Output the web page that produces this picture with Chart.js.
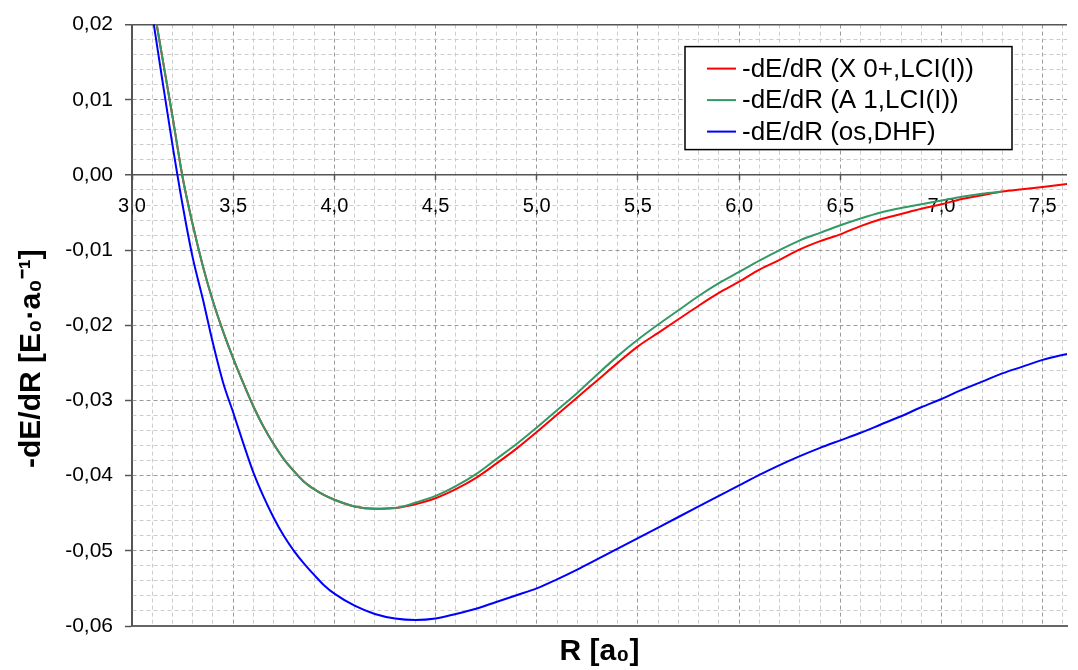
<!DOCTYPE html>
<html>
<head>
<meta charset="utf-8">
<script src="https://cdn.jsdelivr.net/npm/chart.js@4"></script>
<style>
  html, body { margin: 0; padding: 0; background: #fff; }
  #wrap { width: 1078px; height: 670px; position: relative; }
</style>
</head>
<body>
<div id="wrap"><canvas id="forceChart"></canvas></div>
<script>
// internuclear distance R [a0]
const rValues = [
  3.10, 3.15, 3.20, 3.25, 3.30, 3.35, 3.40, 3.45, 3.50, 3.55,
  3.60, 3.65, 3.70, 3.75, 3.80, 3.85, 3.90, 3.95, 4.00, 4.10,
  4.20, 4.30, 4.40, 4.50, 4.60, 4.70, 4.80, 4.90, 5.00, 5.10,
  5.20, 5.30, 5.40, 5.50, 5.60, 5.70, 5.80, 5.90, 6.00, 6.10,
  6.20, 6.30, 6.40, 6.50, 6.60, 6.70, 6.80, 6.90, 7.00, 7.10,
  7.20, 7.30, 7.40, 7.50, 7.62
];

// -dE/dR, X 0+ state, LCI(I)
const forceX = [
  0.0235, 0.0156, 0.0078, -0.0003, -0.0066, -0.0121, -0.0168, -0.0208, -0.0244, -0.0277,
  -0.0308, -0.0335, -0.0358, -0.0378, -0.0394, -0.0408, -0.0418, -0.0426, -0.0432, -0.0441,
  -0.0444, -0.0443, -0.0438, -0.0430, -0.0418, -0.0403, -0.0384, -0.0364, -0.0342, -0.0319,
  -0.0296, -0.0273, -0.0250, -0.0228, -0.0210, -0.0192, -0.0174, -0.0157, -0.0142, -0.0126,
  -0.0113, -0.0099, -0.0088, -0.0079, -0.0068, -0.0059, -0.0052, -0.0045, -0.0039, -0.0032,
  -0.0027, -0.0022, -0.0019, -0.0016, -0.0012
];

// -dE/dR, A 1 state, LCI(I)
const forceA = [
  0.0235, 0.0156, 0.0078, -0.0003, -0.0066, -0.0121, -0.0168, -0.0208, -0.0244, -0.0277,
  -0.0308, -0.0335, -0.0358, -0.0378, -0.0394, -0.0408, -0.0418, -0.0426, -0.0432, -0.0441,
  -0.0444, -0.0443, -0.0436, -0.0427, -0.0414, -0.0398, -0.0378, -0.0358, -0.0336, -0.0313,
  -0.0290, -0.0265, -0.0241, -0.0219, -0.0199, -0.0180, -0.0161, -0.0144, -0.0129, -0.0114,
  -0.0100, -0.0087, -0.0077, -0.0067, -0.0058, -0.0050, -0.0044, -0.0039, -0.0034, -0.0029,
  -0.0025, -0.0022, null, null, null
];

// -dE/dR, os, DHF
const forceDHF = [
  0.0214, 0.0126, 0.0040, -0.0040, -0.0110, -0.0165, -0.0224, -0.0276, -0.0316, -0.0357,
  -0.0396, -0.0428, -0.0456, -0.0480, -0.0500, -0.0517, -0.0532, -0.0546, -0.0557, -0.0573,
  -0.0584, -0.0590, -0.0592, -0.0590, -0.0584, -0.0577, -0.0568, -0.0559, -0.0550, -0.0538,
  -0.0525, -0.0511, -0.0497, -0.0483, -0.0469, -0.0455, -0.0441, -0.0427, -0.0413, -0.0399,
  -0.0386, -0.0374, -0.0363, -0.0353, -0.0343, -0.0332, -0.0321, -0.0309, -0.0298, -0.0286,
  -0.0275, -0.0264, -0.0255, -0.0246, -0.0238
];

const seriesLabels = [
  '-dE/dR (X 0+,LCI(I))',
  '-dE/dR (A 1,LCI(I))',
  '-dE/dR (os,DHF)'
];
const seriesColors = ['#ff0000', '#339966', '#0000ff'];

const xMin = 3.0, xMax = 7.62, yMin = -0.06, yMax = 0.02;

const FONT = '"Liberation Sans", Arial, sans-serif';

function isMult(v, step) {
  return Math.abs(v / step - Math.round(v / step)) < 1e-6;
}
function near(a, b) {
  return Math.abs(a - b) < 1e-9;
}
function toPoints(ys) {
  return rValues.map((r, i) => ({ x: r, y: ys[i] }));
}

// grid styling: solid frame lines, darker dashed majors, light dashed minors
function yGridColor(c) {
  if (!c.tick) return '#555';
  const v = c.tick.value;
  if (near(v, yMax) || near(v, 0) || near(v, yMin)) return '#555';
  return isMult(v, 0.01) ? '#9a9a9a' : '#cccccc';
}
function yGridDash(c) {
  if (!c.tick) return [];
  const v = c.tick.value;
  if (near(v, yMax) || near(v, 0) || near(v, yMin)) return [];
  return [4, 3];
}
function xGridColor(c) {
  if (!c.tick) return '#555';
  const v = c.tick.value;
  if (near(v, xMin)) return '#555';
  return isMult(v, 0.5) ? '#9a9a9a' : '#cccccc';
}
function xGridDash(c) {
  if (!c.tick) return [];
  return near(c.tick.value, xMin) ? [] : [4, 3];
}

// legend drawn as a framed box inside the plot, like the original
const boxLegend = {
  id: 'boxLegend',
  afterDraw(chart) {
    const { ctx, chartArea } = chart;
    const left = chartArea.right - 382;
    const top = chartArea.top + 22;
    const w = 327, h = 103;
    ctx.save();
    ctx.fillStyle = '#fff';
    ctx.fillRect(left, top, w, h);
    ctx.strokeStyle = '#000';
    ctx.lineWidth = 1.5;
    ctx.strokeRect(left, top, w, h);
    ctx.font = '26px ' + FONT;
    ctx.textBaseline = 'middle';
    ctx.fillStyle = '#000';
    chart.data.datasets.forEach((ds, i) => {
      const y = top + 22 + i * 31.5;
      ctx.strokeStyle = ds.borderColor;
      ctx.lineWidth = 2;
      ctx.beginPath();
      ctx.moveTo(left + 22, y);
      ctx.lineTo(left + 51, y);
      ctx.stroke();
      ctx.fillText(ds.label, left + 57, y + 1);
    });
    ctx.restore();
  }
};

const ctx = document.getElementById('forceChart').getContext('2d');

new Chart(ctx, {
  type: 'line',
  data: {
    datasets: [
      { label: seriesLabels[0], data: toPoints(forceX), borderColor: seriesColors[0], order: 1 },
      { label: seriesLabels[1], data: toPoints(forceA), borderColor: seriesColors[1], order: 0 },
      { label: seriesLabels[2], data: toPoints(forceDHF), borderColor: seriesColors[2], order: 2 }
    ]
  },
  options: {
    responsive: true,
    maintainAspectRatio: false,
    animation: false,
    parsing: false,
    layout: { padding: { top: 24, right: 0, bottom: 0, left: 0 } },
    elements: {
      line: { borderWidth: 2, cubicInterpolationMode: 'monotone', fill: false },
      point: { radius: 0, hoverRadius: 0 }
    },
    plugins: {
      legend: { display: false },
      tooltip: { enabled: false }
    },
    scales: {
      x: {
        type: 'linear',
        position: 'bottom',
        min: xMin,
        max: xMax,
        ticks: { display: false, stepSize: 0.1, includeBounds: false },
        grid: { color: xGridColor, drawTicks: false, tickLength: 0 },
        border: { display: true, color: '#666', width: 2, dash: xGridDash },
        title: {
          display: true,
          text: 'R [a₀]',
          color: '#000',
          font: { family: FONT, size: 30, weight: 'bold' },
          padding: { top: 0, bottom: 0 }
        },
        afterFit: (scale) => { scale.height = 44; }
      },
      xLabels: {
        type: 'linear',
        axis: 'x',
        position: { y: 0 },
        min: xMin,
        max: xMax,
        ticks: {
          stepSize: 0.1,
          includeBounds: false,
          autoSkip: false,
          maxRotation: 0,
          color: '#000',
          padding: 15,
          font: { family: FONT, size: 20 },
          callback: (v) => isMult(v, 0.5) ? v.toFixed(1).replace('.', ',') : ''
        },
        grid: {
          drawOnChartArea: false,
          drawTicks: true,
          tickLength: 5,
          tickWidth: 1.5,
          tickColor: (c) => (c.tick && isMult(c.tick.value, 0.5)) ? '#555' : 'rgba(0,0,0,0)'
        },
        border: { display: false }
      },
      y: {
        type: 'linear',
        position: 'left',
        min: yMin,
        max: yMax,
        ticks: {
          stepSize: 0.002,
          autoSkip: false,
          color: '#000',
          padding: 12,
          font: { family: FONT, size: 21 },
          callback: (v) => isMult(v, 0.01) ? v.toFixed(2).replace('.', ',') : ''
        },
        grid: {
          color: yGridColor,
          lineWidth: (c) => (c.tick && (near(c.tick.value, yMax) || near(c.tick.value, 0))) ? 1.5 : 1,
          tickLength: 7,
          tickWidth: 1.5,
          tickColor: (c) => (c.tick && isMult(c.tick.value, 0.01)) ? '#555' : 'rgba(0,0,0,0)'
        },
        border: { display: true, color: '#555', width: 1.5, dash: yGridDash },
        title: {
          display: true,
          text: '-dE/dR [E₀·a₀⁻¹]        ',
          color: '#000',
          font: { family: FONT, size: 30, weight: 'bold' },
          padding: { top: 14, bottom: 0 }
        },
        afterFit: (scale) => { scale.width = 132; }
      }
    }
  },
  plugins: [boxLegend]
});
</script>
</body>
</html>
